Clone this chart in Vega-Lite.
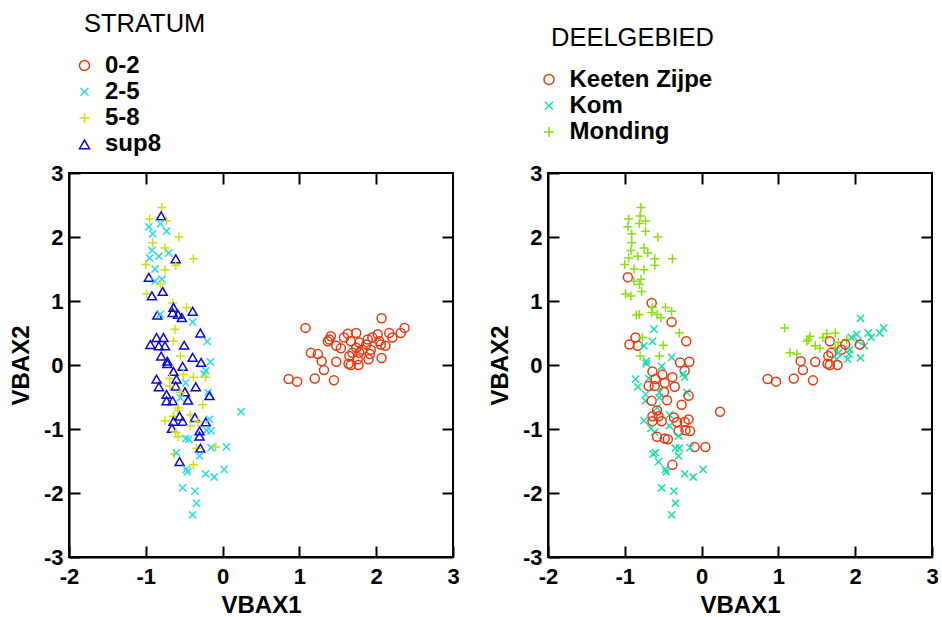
{
  "$schema": "https://vega.github.io/schema/vega-lite/v6.json",
  "background": "white",
  "padding": {"left": 8, "top": 11, "right": 5, "bottom": 5},
  "config": {
    "view": {"stroke": "black", "strokeWidth": 2},
    "axis": {
      "labelFont": "Liberation Sans", "labelFontSize": 22, "labelFontWeight": "bold", "labelColor": "black",
      "titleFont": "Liberation Sans", "titleFontSize": 24, "titleFontWeight": "bold", "titleColor": "black",
      "domainColor": "black", "domainWidth": 2, "tickColor": "black", "tickWidth": 2, "tickSize": -11,
      "grid": false, "labelFlush": false, "labelOverlap": false, "labelBound": false,
      "labelExpr": "'' + datum.value"
    },
    "axisBottom": {"labelPadding": 20, "titlePadding": 6},
    "axisLeft": {"labelPadding": 17, "titlePadding": 10},
    "legend": {
      "orient": "none", "titleFont": "Liberation Sans", "titleFontSize": 25.5, "titleFontWeight": "normal", "titleColor": "black",
      "labelFont": "Liberation Sans", "labelFontSize": 24, "labelFontWeight": "bold", "labelColor": "black", "symbolSize": 100, "symbolStrokeWidth": 1.5,
      "rowPadding": 2.3, "titlePadding": 16, "labelOffset": 8.5, "padding": 0, "symbolType": "circle", "symbolOpacity": 1
    }
  },
  "data": {"values": [
    {"VBAX1": 1.08, "VBAX2": 0.58, "STRATUM": "0-2", "DEELGEBIED": "Monding"},
    {"VBAX1": 2.07, "VBAX2": 0.73, "STRATUM": "0-2", "DEELGEBIED": "Kom"},
    {"VBAX1": 2.37, "VBAX2": 0.58, "STRATUM": "0-2", "DEELGEBIED": "Kom"},
    {"VBAX1": 2.32, "VBAX2": 0.50, "STRATUM": "0-2", "DEELGEBIED": "Kom"},
    {"VBAX1": 2.17, "VBAX2": 0.50, "STRATUM": "0-2", "DEELGEBIED": "Kom"},
    {"VBAX1": 2.21, "VBAX2": 0.43, "STRATUM": "0-2", "DEELGEBIED": "Kom"},
    {"VBAX1": 2.02, "VBAX2": 0.48, "STRATUM": "0-2", "DEELGEBIED": "Kom"},
    {"VBAX1": 1.95, "VBAX2": 0.43, "STRATUM": "0-2", "DEELGEBIED": "Kom"},
    {"VBAX1": 1.89, "VBAX2": 0.40, "STRATUM": "0-2", "DEELGEBIED": "Monding"},
    {"VBAX1": 1.74, "VBAX2": 0.50, "STRATUM": "0-2", "DEELGEBIED": "Monding"},
    {"VBAX1": 1.63, "VBAX2": 0.49, "STRATUM": "0-2", "DEELGEBIED": "Monding"},
    {"VBAX1": 1.58, "VBAX2": 0.43, "STRATUM": "0-2", "DEELGEBIED": "Monding"},
    {"VBAX1": 1.41, "VBAX2": 0.45, "STRATUM": "0-2", "DEELGEBIED": "Monding"},
    {"VBAX1": 1.39, "VBAX2": 0.40, "STRATUM": "0-2", "DEELGEBIED": "Monding"},
    {"VBAX1": 1.37, "VBAX2": 0.37, "STRATUM": "0-2", "DEELGEBIED": "Monding"},
    {"VBAX1": 1.67, "VBAX2": 0.37, "STRATUM": "0-2", "DEELGEBIED": "Keeten Zijpe"},
    {"VBAX1": 1.78, "VBAX2": 0.35, "STRATUM": "0-2", "DEELGEBIED": "Monding"},
    {"VBAX1": 1.87, "VBAX2": 0.32, "STRATUM": "0-2", "DEELGEBIED": "Keeten Zijpe"},
    {"VBAX1": 2.04, "VBAX2": 0.37, "STRATUM": "0-2", "DEELGEBIED": "Kom"},
    {"VBAX1": 2.12, "VBAX2": 0.30, "STRATUM": "0-2", "DEELGEBIED": "Kom"},
    {"VBAX1": 2.06, "VBAX2": 0.32, "STRATUM": "0-2", "DEELGEBIED": "Keeten Zijpe"},
    {"VBAX1": 1.48, "VBAX2": 0.30, "STRATUM": "0-2", "DEELGEBIED": "Monding"},
    {"VBAX1": 1.54, "VBAX2": 0.26, "STRATUM": "0-2", "DEELGEBIED": "Monding"},
    {"VBAX1": 1.74, "VBAX2": 0.27, "STRATUM": "0-2", "DEELGEBIED": "Monding"},
    {"VBAX1": 1.82, "VBAX2": 0.24, "STRATUM": "0-2", "DEELGEBIED": "Keeten Zijpe"},
    {"VBAX1": 1.93, "VBAX2": 0.24, "STRATUM": "0-2", "DEELGEBIED": "Kom"},
    {"VBAX1": 1.15, "VBAX2": 0.19, "STRATUM": "0-2", "DEELGEBIED": "Monding"},
    {"VBAX1": 1.24, "VBAX2": 0.17, "STRATUM": "0-2", "DEELGEBIED": "Monding"},
    {"VBAX1": 1.69, "VBAX2": 0.19, "STRATUM": "0-2", "DEELGEBIED": "Keeten Zijpe"},
    {"VBAX1": 1.78, "VBAX2": 0.19, "STRATUM": "0-2", "DEELGEBIED": "Kom"},
    {"VBAX1": 1.65, "VBAX2": 0.14, "STRATUM": "0-2", "DEELGEBIED": "Keeten Zijpe"},
    {"VBAX1": 1.92, "VBAX2": 0.17, "STRATUM": "0-2", "DEELGEBIED": "Kom"},
    {"VBAX1": 2.07, "VBAX2": 0.11, "STRATUM": "0-2", "DEELGEBIED": "Kom"},
    {"VBAX1": 1.90, "VBAX2": 0.09, "STRATUM": "0-2", "DEELGEBIED": "Kom"},
    {"VBAX1": 1.76, "VBAX2": 0.09, "STRATUM": "0-2", "DEELGEBIED": "Kom"},
    {"VBAX1": 1.29, "VBAX2": 0.06, "STRATUM": "0-2", "DEELGEBIED": "Keeten Zijpe"},
    {"VBAX1": 1.48, "VBAX2": 0.05, "STRATUM": "0-2", "DEELGEBIED": "Keeten Zijpe"},
    {"VBAX1": 1.64, "VBAX2": 0.02, "STRATUM": "0-2", "DEELGEBIED": "Keeten Zijpe"},
    {"VBAX1": 1.67, "VBAX2": 0.00, "STRATUM": "0-2", "DEELGEBIED": "Keeten Zijpe"},
    {"VBAX1": 1.77, "VBAX2": 0.00, "STRATUM": "0-2", "DEELGEBIED": "Keeten Zijpe"},
    {"VBAX1": 1.32, "VBAX2": -0.08, "STRATUM": "0-2", "DEELGEBIED": "Keeten Zijpe"},
    {"VBAX1": 0.86, "VBAX2": -0.22, "STRATUM": "0-2", "DEELGEBIED": "Keeten Zijpe"},
    {"VBAX1": 0.97, "VBAX2": -0.26, "STRATUM": "0-2", "DEELGEBIED": "Keeten Zijpe"},
    {"VBAX1": 1.20, "VBAX2": -0.21, "STRATUM": "0-2", "DEELGEBIED": "Keeten Zijpe"},
    {"VBAX1": 1.45, "VBAX2": -0.24, "STRATUM": "0-2", "DEELGEBIED": "Keeten Zijpe"},

    {"VBAX1": -0.79, "VBAX2": 2.46, "STRATUM": "5-8", "DEELGEBIED": "Monding"},
    {"VBAX1": -0.80, "VBAX2": 2.33, "STRATUM": "sup8", "DEELGEBIED": "Monding"},
    {"VBAX1": -0.95, "VBAX2": 2.28, "STRATUM": "5-8", "DEELGEBIED": "Monding"},
    {"VBAX1": -0.73, "VBAX2": 2.25, "STRATUM": "5-8", "DEELGEBIED": "Monding"},
    {"VBAX1": -0.96, "VBAX2": 2.16, "STRATUM": "2-5", "DEELGEBIED": "Monding"},
    {"VBAX1": -0.81, "VBAX2": 2.21, "STRATUM": "2-5", "DEELGEBIED": "Monding"},
    {"VBAX1": -0.73, "VBAX2": 2.09, "STRATUM": "2-5", "DEELGEBIED": "Monding"},
    {"VBAX1": -0.91, "VBAX2": 2.05, "STRATUM": "2-5", "DEELGEBIED": "Monding"},
    {"VBAX1": -0.57, "VBAX2": 2.00, "STRATUM": "5-8", "DEELGEBIED": "Monding"},
    {"VBAX1": -0.91, "VBAX2": 1.91, "STRATUM": "5-8", "DEELGEBIED": "Monding"},
    {"VBAX1": -0.92, "VBAX2": 1.79, "STRATUM": "2-5", "DEELGEBIED": "Monding"},
    {"VBAX1": -0.75, "VBAX2": 1.83, "STRATUM": "5-8", "DEELGEBIED": "Monding"},
    {"VBAX1": -0.83, "VBAX2": 1.70, "STRATUM": "2-5", "DEELGEBIED": "Monding"},
    {"VBAX1": -0.70, "VBAX2": 1.75, "STRATUM": "2-5", "DEELGEBIED": "Monding"},
    {"VBAX1": -0.61, "VBAX2": 1.66, "STRATUM": "sup8", "DEELGEBIED": "Monding"},
    {"VBAX1": -0.38, "VBAX2": 1.66, "STRATUM": "5-8", "DEELGEBIED": "Monding"},
    {"VBAX1": -0.95, "VBAX2": 1.67, "STRATUM": "2-5", "DEELGEBIED": "Monding"},
    {"VBAX1": -1.00, "VBAX2": 1.57, "STRATUM": "5-8", "DEELGEBIED": "Monding"},
    {"VBAX1": -0.88, "VBAX2": 1.50, "STRATUM": "2-5", "DEELGEBIED": "Monding"},
    {"VBAX1": -0.75, "VBAX2": 1.49, "STRATUM": "5-8", "DEELGEBIED": "Monding"},
    {"VBAX1": -0.61, "VBAX2": 1.56, "STRATUM": "5-8", "DEELGEBIED": "Monding"},
    {"VBAX1": -0.96, "VBAX2": 1.37, "STRATUM": "sup8", "DEELGEBIED": "Keeten Zijpe"},
    {"VBAX1": -0.79, "VBAX2": 1.34, "STRATUM": "2-5", "DEELGEBIED": "Monding"},
    {"VBAX1": -0.88, "VBAX2": 1.31, "STRATUM": "2-5", "DEELGEBIED": "Monding"},
    {"VBAX1": -0.81, "VBAX2": 1.26, "STRATUM": "5-8", "DEELGEBIED": "Monding"},
    {"VBAX1": -0.78, "VBAX2": 1.15, "STRATUM": "sup8", "DEELGEBIED": "Monding"},
    {"VBAX1": -0.99, "VBAX2": 1.11, "STRATUM": "5-8", "DEELGEBIED": "Monding"},
    {"VBAX1": -0.92, "VBAX2": 1.08, "STRATUM": "sup8", "DEELGEBIED": "Monding"},
    {"VBAX1": -0.65, "VBAX2": 0.97, "STRATUM": "5-8", "DEELGEBIED": "Keeten Zijpe"},
    {"VBAX1": -0.64, "VBAX2": 0.90, "STRATUM": "sup8", "DEELGEBIED": "Monding"},
    {"VBAX1": -0.47, "VBAX2": 0.90, "STRATUM": "5-8", "DEELGEBIED": "Monding"},
    {"VBAX1": -0.39, "VBAX2": 0.84, "STRATUM": "sup8", "DEELGEBIED": "Monding"},
    {"VBAX1": -0.65, "VBAX2": 0.82, "STRATUM": "sup8", "DEELGEBIED": "Monding"},
    {"VBAX1": -0.58, "VBAX2": 0.79, "STRATUM": "sup8", "DEELGEBIED": "Monding"},
    {"VBAX1": -0.53, "VBAX2": 0.74, "STRATUM": "sup8", "DEELGEBIED": "Monding"},
    {"VBAX1": -0.85, "VBAX2": 0.78, "STRATUM": "sup8", "DEELGEBIED": "Monding"},
    {"VBAX1": -0.81, "VBAX2": 0.79, "STRATUM": "2-5", "DEELGEBIED": "Monding"},
    {"VBAX1": -0.39, "VBAX2": 0.67, "STRATUM": "2-5", "DEELGEBIED": "Keeten Zijpe"},
    {"VBAX1": -0.62, "VBAX2": 0.56, "STRATUM": "5-8", "DEELGEBIED": "Kom"},
    {"VBAX1": -0.64, "VBAX2": 0.37, "STRATUM": "5-8", "DEELGEBIED": "Kom"},
    {"VBAX1": -0.29, "VBAX2": 0.50, "STRATUM": "sup8", "DEELGEBIED": "Monding"},
    {"VBAX1": -0.20, "VBAX2": 0.37, "STRATUM": "2-5", "DEELGEBIED": "Keeten Zijpe"},
    {"VBAX1": -0.94, "VBAX2": 0.32, "STRATUM": "sup8", "DEELGEBIED": "Keeten Zijpe"},
    {"VBAX1": -0.86, "VBAX2": 0.43, "STRATUM": "sup8", "DEELGEBIED": "Keeten Zijpe"},
    {"VBAX1": -0.77, "VBAX2": 0.43, "STRATUM": "sup8", "DEELGEBIED": "Monding"},
    {"VBAX1": -0.83, "VBAX2": 0.30, "STRATUM": "sup8", "DEELGEBIED": "Keeten Zijpe"},
    {"VBAX1": -0.75, "VBAX2": 0.30, "STRATUM": "sup8", "DEELGEBIED": "Kom"},
    {"VBAX1": -0.50, "VBAX2": 0.31, "STRATUM": "sup8", "DEELGEBIED": "Monding"},

    {"VBAX1": -0.80, "VBAX2": 0.14, "STRATUM": "sup8", "DEELGEBIED": "Monding"},
    {"VBAX1": -0.55, "VBAX2": 0.14, "STRATUM": "5-8", "DEELGEBIED": "Monding"},
    {"VBAX1": -0.39, "VBAX2": 0.12, "STRATUM": "sup8", "DEELGEBIED": "Kom"},
    {"VBAX1": -0.72, "VBAX2": 0.06, "STRATUM": "sup8", "DEELGEBIED": "Kom"},
    {"VBAX1": -0.72, "VBAX2": 0.02, "STRATUM": "sup8", "DEELGEBIED": "Kom"},
    {"VBAX1": -0.28, "VBAX2": 0.04, "STRATUM": "sup8", "DEELGEBIED": "Keeten Zijpe"},
    {"VBAX1": -0.16, "VBAX2": 0.05, "STRATUM": "2-5", "DEELGEBIED": "Keeten Zijpe"},
    {"VBAX1": -0.52, "VBAX2": -0.02, "STRATUM": "sup8", "DEELGEBIED": "Kom"},
    {"VBAX1": -0.64, "VBAX2": -0.10, "STRATUM": "sup8", "DEELGEBIED": "Keeten Zijpe"},
    {"VBAX1": -0.22, "VBAX2": -0.09, "STRATUM": "2-5", "DEELGEBIED": "Keeten Zijpe"},
    {"VBAX1": -0.24, "VBAX2": -0.14, "STRATUM": "2-5", "DEELGEBIED": "Kom"},
    {"VBAX1": -0.51, "VBAX2": -0.15, "STRATUM": "5-8", "DEELGEBIED": "Keeten Zijpe"},
    {"VBAX1": -0.38, "VBAX2": -0.19, "STRATUM": "5-8", "DEELGEBIED": "Keeten Zijpe"},
    {"VBAX1": -0.22, "VBAX2": -0.19, "STRATUM": "5-8", "DEELGEBIED": "Kom"},
    {"VBAX1": -0.86, "VBAX2": -0.22, "STRATUM": "sup8", "DEELGEBIED": "Kom"},
    {"VBAX1": -0.69, "VBAX2": -0.21, "STRATUM": "5-8", "DEELGEBIED": "Kom"},
    {"VBAX1": -0.60, "VBAX2": -0.22, "STRATUM": "sup8", "DEELGEBIED": "Keeten Zijpe"},
    {"VBAX1": -0.48, "VBAX2": -0.28, "STRATUM": "2-5", "DEELGEBIED": "Keeten Zijpe"},
    {"VBAX1": -0.83, "VBAX2": -0.34, "STRATUM": "sup8", "DEELGEBIED": "Kom"},
    {"VBAX1": -0.61, "VBAX2": -0.33, "STRATUM": "sup8", "DEELGEBIED": "Keeten Zijpe"},
    {"VBAX1": -0.69, "VBAX2": -0.33, "STRATUM": "5-8", "DEELGEBIED": "Keeten Zijpe"},
    {"VBAX1": -0.35, "VBAX2": -0.34, "STRATUM": "sup8", "DEELGEBIED": "Keeten Zijpe"},
    {"VBAX1": -0.49, "VBAX2": -0.42, "STRATUM": "sup8", "DEELGEBIED": "Keeten Zijpe"},
    {"VBAX1": -0.55, "VBAX2": -0.43, "STRATUM": "5-8", "DEELGEBIED": "Kom"},
    {"VBAX1": -0.19, "VBAX2": -0.43, "STRATUM": "2-5", "DEELGEBIED": "Kom"},
    {"VBAX1": -0.17, "VBAX2": -0.48, "STRATUM": "sup8", "DEELGEBIED": "Keeten Zijpe"},
    {"VBAX1": -0.73, "VBAX2": -0.46, "STRATUM": "sup8", "DEELGEBIED": "Kom"},
    {"VBAX1": -0.45, "VBAX2": -0.55, "STRATUM": "sup8", "DEELGEBIED": "Keeten Zijpe"},
    {"VBAX1": -0.73, "VBAX2": -0.56, "STRATUM": "sup8", "DEELGEBIED": "Kom"},
    {"VBAX1": -0.65, "VBAX2": -0.56, "STRATUM": "sup8", "DEELGEBIED": "Keeten Zijpe"},
    {"VBAX1": -0.55, "VBAX2": -0.51, "STRATUM": "2-5", "DEELGEBIED": "Kom"},
    {"VBAX1": -0.26, "VBAX2": -0.62, "STRATUM": "5-8", "DEELGEBIED": "Keeten Zijpe"},
    {"VBAX1": -0.58, "VBAX2": -0.67, "STRATUM": "5-8", "DEELGEBIED": "Kom"},
    {"VBAX1": -0.58, "VBAX2": -0.71, "STRATUM": "5-8", "DEELGEBIED": "Keeten Zijpe"},
    {"VBAX1": 0.24, "VBAX2": -0.73, "STRATUM": "2-5", "DEELGEBIED": "Keeten Zijpe"},
    {"VBAX1": -0.42, "VBAX2": -0.78, "STRATUM": "5-8", "DEELGEBIED": "Kom"},
    {"VBAX1": -0.64, "VBAX2": -0.80, "STRATUM": "5-8", "DEELGEBIED": "Keeten Zijpe"},
    {"VBAX1": -0.56, "VBAX2": -0.80, "STRATUM": "sup8", "DEELGEBIED": "Keeten Zijpe"},
    {"VBAX1": -0.36, "VBAX2": -0.82, "STRATUM": "sup8", "DEELGEBIED": "Keeten Zijpe"},
    {"VBAX1": -0.75, "VBAX2": -0.87, "STRATUM": "5-8", "DEELGEBIED": "Kom"},
    {"VBAX1": -0.64, "VBAX2": -0.88, "STRATUM": "sup8", "DEELGEBIED": "Keeten Zijpe"},
    {"VBAX1": -0.52, "VBAX2": -0.88, "STRATUM": "sup8", "DEELGEBIED": "Keeten Zijpe"},
    {"VBAX1": -0.22, "VBAX2": -0.89, "STRATUM": "sup8", "DEELGEBIED": "Keeten Zijpe"},
    {"VBAX1": -0.32, "VBAX2": -0.89, "STRATUM": "5-8", "DEELGEBIED": "Keeten Zijpe"},
    {"VBAX1": -0.17, "VBAX2": -0.85, "STRATUM": "2-5", "DEELGEBIED": "Keeten Zijpe"},
    {"VBAX1": -0.42, "VBAX2": -0.95, "STRATUM": "5-8", "DEELGEBIED": "Kom"},
    {"VBAX1": -0.66, "VBAX2": -0.99, "STRATUM": "sup8", "DEELGEBIED": "Kom"},
    {"VBAX1": -0.21, "VBAX2": -1.02, "STRATUM": "2-5", "DEELGEBIED": "Keeten Zijpe"},
    {"VBAX1": -0.15, "VBAX2": -1.03, "STRATUM": "2-5", "DEELGEBIED": "Keeten Zijpe"},
    {"VBAX1": -0.30, "VBAX2": -1.03, "STRATUM": "sup8", "DEELGEBIED": "Keeten Zijpe"},
    {"VBAX1": -0.61, "VBAX2": -1.05, "STRATUM": "5-8", "DEELGEBIED": "Kom"},
    {"VBAX1": -0.58, "VBAX2": -1.12, "STRATUM": "5-8", "DEELGEBIED": "Keeten Zijpe"},
    {"VBAX1": -0.30, "VBAX2": -1.11, "STRATUM": "sup8", "DEELGEBIED": "Kom"},
    {"VBAX1": -0.48, "VBAX2": -1.15, "STRATUM": "2-5", "DEELGEBIED": "Keeten Zijpe"},
    {"VBAX1": -0.44, "VBAX2": -1.16, "STRATUM": "2-5", "DEELGEBIED": "Keeten Zijpe"},
    {"VBAX1": -0.34, "VBAX2": -1.30, "STRATUM": "5-8", "DEELGEBIED": "Kom"},
    {"VBAX1": -0.29, "VBAX2": -1.30, "STRATUM": "sup8", "DEELGEBIED": "Kom"},
    {"VBAX1": -0.09, "VBAX2": -1.28, "STRATUM": "5-8", "DEELGEBIED": "Keeten Zijpe"},
    {"VBAX1": -0.15, "VBAX2": -1.29, "STRATUM": "2-5", "DEELGEBIED": "Kom"},
    {"VBAX1": 0.05, "VBAX2": -1.28, "STRATUM": "2-5", "DEELGEBIED": "Keeten Zijpe"},
    {"VBAX1": -0.30, "VBAX2": -1.42, "STRATUM": "2-5", "DEELGEBIED": "Kom"},
    {"VBAX1": -0.63, "VBAX2": -1.39, "STRATUM": "5-8", "DEELGEBIED": "Kom"},
    {"VBAX1": -0.60, "VBAX2": -1.37, "STRATUM": "2-5", "DEELGEBIED": "Kom"},
    {"VBAX1": -0.56, "VBAX2": -1.51, "STRATUM": "sup8", "DEELGEBIED": "Kom"},
    {"VBAX1": -0.38, "VBAX2": -1.56, "STRATUM": "5-8", "DEELGEBIED": "Keeten Zijpe"},
    {"VBAX1": -0.47, "VBAX2": -1.63, "STRATUM": "2-5", "DEELGEBIED": "Kom"},
    {"VBAX1": -0.46, "VBAX2": -1.67, "STRATUM": "2-5", "DEELGEBIED": "Kom"},
    {"VBAX1": -0.22, "VBAX2": -1.70, "STRATUM": "2-5", "DEELGEBIED": "Kom"},
    {"VBAX1": -0.11, "VBAX2": -1.75, "STRATUM": "2-5", "DEELGEBIED": "Kom"},
    {"VBAX1": 0.02, "VBAX2": -1.63, "STRATUM": "2-5", "DEELGEBIED": "Kom"},
    {"VBAX1": -0.52, "VBAX2": -1.92, "STRATUM": "2-5", "DEELGEBIED": "Kom"},
    {"VBAX1": -0.36, "VBAX2": -1.97, "STRATUM": "2-5", "DEELGEBIED": "Kom"},
    {"VBAX1": -0.34, "VBAX2": -2.16, "STRATUM": "2-5", "DEELGEBIED": "Kom"},
    {"VBAX1": -0.39, "VBAX2": -2.34, "STRATUM": "2-5", "DEELGEBIED": "Kom"}
  ]},
  "spacing": 26,
  "resolve": {
    "scale": {"color": "independent", "shape": "independent"},
    "legend": {"color": "independent", "shape": "independent"}
  },
  "hconcat": [
    {
      "width": 384, "height": 384,
      "layer": [
        {
          "mark": {"type": "point", "filled": false, "size": 81, "strokeWidth": 1.5, "opacity": 1},
          "encoding": {
            "x": {"field": "VBAX1", "type": "quantitative", "scale": {"domain": [-2, 3], "nice": false, "zero": false},
                  "axis": {"orient": "bottom", "values": [-2, -1, 0, 1, 2, 3], "title": "VBAX1"}},
            "y": {"field": "VBAX2", "type": "quantitative", "scale": {"domain": [-3, 3], "nice": false, "zero": false},
                  "axis": {"orient": "left", "values": [-3, -2, -1, 0, 1, 2, 3], "title": "VBAX2"}},
            "color": {"field": "STRATUM", "type": "nominal",
                      "scale": {"domain": ["0-2", "2-5", "5-8", "sup8"], "range": ["#e8380e", "#28dde8", "#cce010", "#0a0ad8"]},
                      "legend": {"title": "STRATUM", "legendX": 15, "legendY": -161, "symbolOffset": -11.5}},
            "shape": {"field": "STRATUM", "type": "nominal",
                      "scale": {"domain": ["0-2", "2-5", "5-8", "sup8"], "range": ["circle", "M-0.8,-0.8L0.8,0.8M-0.8,0.8L0.8,-0.8", "M-1,0L1,0M0,-1L0,1", "triangle-up"]}}
          }
        },
        {
          "mark": {"type": "point", "opacity": 0},
          "encoding": {
            "x": {"field": "VBAX1", "type": "quantitative", "axis": {"orient": "top", "labels": false, "title": null, "domain": false, "values": [-1, 0, 1, 2]}},
            "y": {"field": "VBAX2", "type": "quantitative", "axis": {"orient": "right", "labels": false, "title": null, "domain": false, "values": [-2, -1, 0, 1, 2]}}
          }
        }
      ],
      "resolve": {"axis": {"x": "independent", "y": "independent"}}
    },
    {
      "width": 384, "height": 384,
      "layer": [
        {
          "mark": {"type": "point", "filled": false, "size": 81, "strokeWidth": 1.5, "opacity": 1},
          "encoding": {
            "x": {"field": "VBAX1", "type": "quantitative", "scale": {"domain": [-2, 3], "nice": false, "zero": false},
                  "axis": {"orient": "bottom", "values": [-2, -1, 0, 1, 2, 3], "title": "VBAX1"}},
            "y": {"field": "VBAX2", "type": "quantitative", "scale": {"domain": [-3, 3], "nice": false, "zero": false},
                  "axis": {"orient": "left", "values": [-3, -2, -1, 0, 1, 2, 3], "title": "VBAX2"}},
            "color": {"field": "DEELGEBIED", "type": "nominal",
                      "scale": {"domain": ["Keeten Zijpe", "Kom", "Monding"], "range": ["#e8380e", "#18e0a8", "#88e010"]},
                      "legend": {"title": "DEELGEBIED", "legendX": 3, "legendY": -147, "symbolOffset": -14}},
            "shape": {"field": "DEELGEBIED", "type": "nominal",
                      "scale": {"domain": ["Keeten Zijpe", "Kom", "Monding"], "range": ["circle", "M-0.8,-0.8L0.8,0.8M-0.8,0.8L0.8,-0.8", "M-1,0L1,0M0,-1L0,1"]}}
          }
        },
        {
          "mark": {"type": "point", "opacity": 0},
          "encoding": {
            "x": {"field": "VBAX1", "type": "quantitative", "axis": {"orient": "top", "labels": false, "title": null, "domain": false, "values": [-1, 0, 1, 2]}},
            "y": {"field": "VBAX2", "type": "quantitative", "axis": {"orient": "right", "labels": false, "title": null, "domain": false, "values": [-2, -1, 0, 1, 2]}}
          }
        }
      ],
      "resolve": {"axis": {"x": "independent", "y": "independent"}}
    }
  ]
}
